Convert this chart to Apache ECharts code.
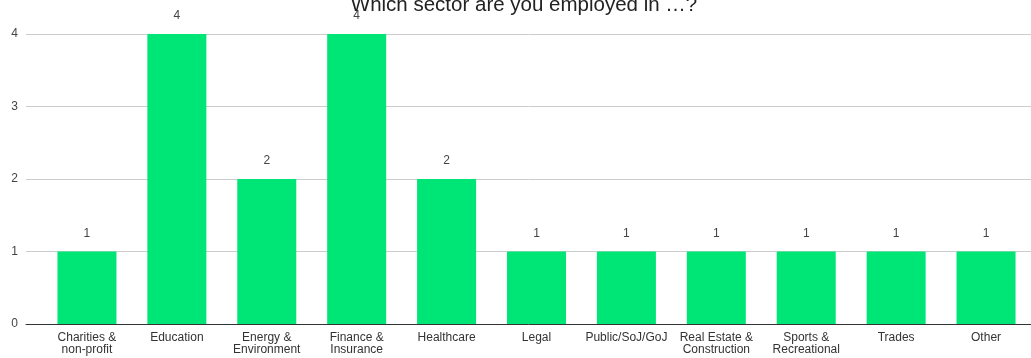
<!DOCTYPE html>
<html>
<head>
<meta charset="utf-8">
<script src="https://cdn.jsdelivr.net/npm/echarts@6/dist/echarts.min.js"></script>
<style>
  html, body { margin: 0; padding: 0; background: #fff; }
  #chart { width: 1031px; height: 358px; }
</style>
</head>
<body>
<div id="chart"></div>
<script>
// categories and counts
var sectors = ['Charities &\nnon-profit', 'Education', 'Energy &\nEnvironment', 'Finance &\nInsurance', 'Healthcare',
    'Legal', 'Public/SoJ/GoJ', 'Real Estate &\nConstruction', 'Sports &\nRecreational', 'Trades', 'Other'];
var counts = [1, 4, 2, 4, 2, 1, 1, 1, 1, 1, 1];
var yTicks = [0, 1, 2, 3, 4];

var myChart = echarts.init(document.getElementById('chart'));

var option = {
    animation: false,
    textStyle: { fontFamily: '"Liberation Sans", Arial, sans-serif' },
    title: {
        text: 'Which sector are you employed in …?',
        left: 519,
        textAlign: 'center',
        top: -10,
        textStyle: { fontSize: 20.5, fontWeight: 'normal', color: '#222', fontFamily: '"Liberation Sans", Arial, sans-serif' }
    },
    grid: [
        // background grid: gridlines + y labels
        { left: 26, right: 0, top: 34, bottom: 34 },
        // bars
        { left: 42, right: 0, top: 34, bottom: 34 }
    ],
    xAxis: [
        {
            gridIndex: 0, type: 'category', data: [''],
            axisLine: { show: true, lineStyle: { color: '#333', width: 1 } },
            axisTick: { show: false }, axisLabel: { show: false }
        },
        {
            gridIndex: 1, type: 'category', data: sectors,
            axisLine: { show: false }, axisTick: { show: false },
            axisLabel: { color: '#333', fontSize: 12, margin: 8, lineHeight: 12, interval: 0 }
        }
    ],
    yAxis: [
        {
            gridIndex: 0, type: 'value', min: yTicks[0], max: yTicks[yTicks.length - 1], interval: 1,
            axisLine: { show: false }, axisTick: { show: false },
            axisLabel: { color: '#444', fontSize: 12, margin: 8 },
            splitLine: { lineStyle: { color: '#ccc' } }
        },
        {
            gridIndex: 1, type: 'value', min: 0, max: 4, interval: 1,
            axisLine: { show: false }, axisTick: { show: false },
            axisLabel: { show: false }, splitLine: { show: false }
        }
    ],
    series: [{
        type: 'bar',
        xAxisIndex: 1,
        yAxisIndex: 1,
        data: counts,
        barWidth: 59,
        itemStyle: { color: '#00e676' },
        label: { show: true, position: 'top', distance: 12, color: '#444', fontSize: 12 }
    }]
};

myChart.setOption(option);
</script>
</body>
</html>
